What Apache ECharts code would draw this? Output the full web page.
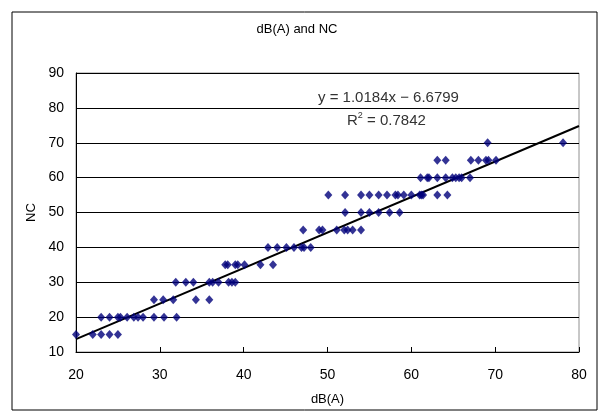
<!DOCTYPE html>
<html>
<head>
<meta charset="utf-8">
<script src="https://cdn.jsdelivr.net/npm/echarts@6/dist/echarts.min.js"></script>
<style>
  html, body { margin: 0; padding: 0; background: #fff; }
  #chart { width: 609px; height: 420px; }
</style>
</head>
<body>
<div id="chart"></div>
<script>
// measured points, dB(A) vs NC
var dbaValues = [
  20, 22, 23, 24, 25,
  23, 24, 25, 25.3, 26.1, 26.9, 27.4, 28, 29.3, 30.5, 32,
  29.3, 30.4, 31.6, 34.3, 35.9,
  31.9, 33.1, 34.0, 35.9, 36.3, 37.0, 38.2, 38.6, 39.0,
  37.8, 38.1, 39.0, 39.3, 40.1, 42.0, 43.5,
  42.9, 44.0, 45.1, 46.0, 46.9, 47.2, 48.0,
  47.1, 49.0, 49.4, 51.1, 52.0, 52.4, 53.0, 54.0,
  52.1, 54.0, 55.0, 56.1, 57.4, 58.6,
  50.1, 52.1, 54.0, 55.0, 56.1, 57.1, 58.1, 58.4, 59.1, 60.0, 61.0, 61.2, 61.4, 63.1, 64.3,
  61.1, 61.9, 62.1, 63.1, 64.1, 64.9, 65.3, 65.7, 66.0, 67.0,
  63.1, 64.1, 67.1, 68.0, 68.9, 69.2, 70.1,
  69.1, 78.1
]
var ncValues = [
  15, 15, 15, 15, 15,
  20, 20, 20, 20, 20, 20, 20, 20, 20, 20, 20,
  25, 25, 25, 25, 25,
  30, 30, 30, 30, 30, 30, 30, 30, 30,
  35, 35, 35, 35, 35, 35, 35,
  40, 40, 40, 40, 40, 40, 40,
  45, 45, 45, 45, 45, 45, 45, 45,
  50, 50, 50, 50, 50, 50,
  55, 55, 55, 55, 55, 55, 55, 55, 55, 55, 55, 55, 55, 55, 55,
  60, 60, 60, 60, 60, 60, 60, 60, 60, 60,
  65, 65, 65, 65, 65, 65, 65,
  70, 70
]
// linear trend line
var slope = 1.0184
var intercept = -6.6799
var trendX = [20, 80]
var xTicks = [20, 30, 40, 50, 60, 70, 80]
var yTicks = [10, 20, 30, 40, 50, 60, 70, 80, 90]

var points = dbaValues.map(function (x, i) { return [x, ncValues[i]] })
var trend = trendX.map(function (x) { return [x, slope * x + intercept] })

var chart = echarts.init(document.getElementById('chart'))
var font = 'Liberation Sans'

chart.setOption({
  backgroundColor: '#fff',
  animation: false,
  title: {
    text: 'dB(A) and NC',
    left: 292,
    top: 18,
    textAlign: 'center',
    textStyle: { fontFamily: font, fontSize: 13, fontWeight: 'normal', color: '#000' }
  },
  grid: {
    left: 76,
    right: 30,
    top: 73,
    bottom: 68,
    show: true,
    borderColor: '#909090',
    borderWidth: 1,
    backgroundColor: '#fff'
  },
  xAxis: {
    type: 'value',
    min: xTicks[0],
    max: xTicks[xTicks.length - 1],
    interval: 10,
    name: 'dB(A)',
    nameLocation: 'middle',
    nameGap: 41,
    nameTextStyle: { fontFamily: font, fontSize: 13, color: '#000' },
    axisLine: { lineStyle: { color: '#000', width: 1 } },
    axisTick: { inside: true, length: 5, lineStyle: { color: '#000' } },
    axisLabel: { fontFamily: font, fontSize: 14, color: '#000', margin: 16 },
    splitLine: { show: false }
  },
  yAxis: {
    type: 'value',
    min: yTicks[0],
    max: yTicks[yTicks.length - 1],
    interval: 10,
    name: 'NC',
    nameLocation: 'middle',
    nameGap: 37,
    nameTextStyle: { fontFamily: font, fontSize: 13, color: '#000' },
    axisLine: { show: true, lineStyle: { color: '#000', width: 1 } },
    axisTick: { show: false },
    axisLabel: { fontFamily: font, fontSize: 14, color: '#000', margin: 12 },
    splitLine: { lineStyle: { color: '#000', width: 1 } }
  },
  series: [
    {
      type: 'line',
      data: trend,
      showSymbol: false,
      lineStyle: { color: '#000', width: 2 },
      z: 3
    },
    {
      type: 'scatter',
      data: points,
      symbol: 'diamond',
      symbolSize: [8, 9],
      itemStyle: { color: '#00007a' },
      z: 4
    }
  ],
  graphic: [
    {
      type: 'rect',
      shape: { x: 12, y: 12, width: 585, height: 398 },
      style: { fill: 'none', stroke: '#000', lineWidth: 1 },
      silent: true
    },
    {
      type: 'text',
      left: 318,
      top: 90,
      style: { text: 'y = 1.0184x \u2212 6.6799', fontFamily: font, fontSize: 15, fill: '#333' }
    },
    {
      type: 'text',
      left: 347,
      top: 111,
      style: {
        text: '{r|R}{s|2}{r| = 0.7842}',
        fill: '#333',
        rich: {
          r: { fontFamily: font, fontSize: 15, fill: '#333', verticalAlign: 'bottom' },
          s: { fontFamily: font, fontSize: 9, fill: '#333', verticalAlign: 'top', padding: [0, 0, 8, 0] }
        }
      }
    }
  ]
})
</script>
</body>
</html>
